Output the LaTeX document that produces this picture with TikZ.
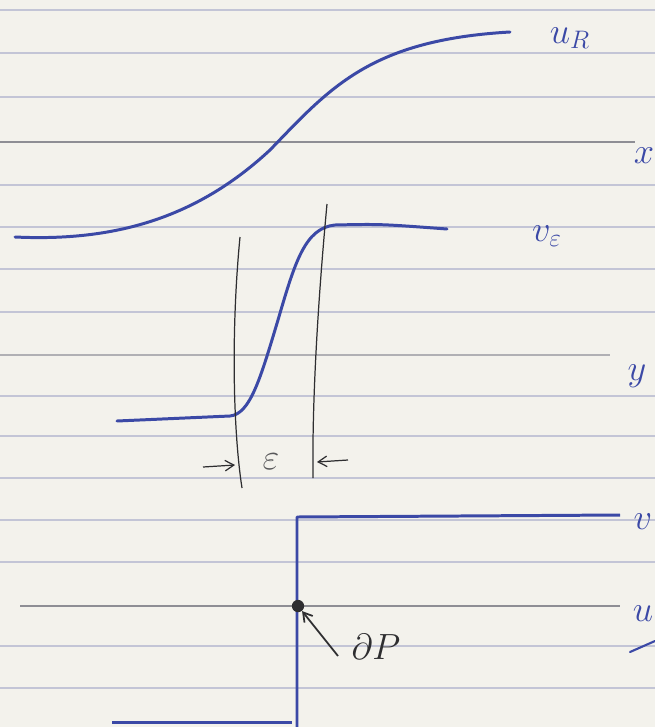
\documentclass[tikz,border=0pt]{standalone}
\usepackage{amsmath,amsfonts}
\usetikzlibrary{positioning, arrows.meta, calc}

\definecolor{paper}{HTML}{F3F2EC}
\definecolor{ruling}{HTML}{C3C5D6}
\definecolor{axisgray}{HTML}{8E8E94}
\definecolor{ink}{HTML}{3B49A6}
\definecolor{pencil}{HTML}{2E2E30}

\begin{document}
\begin{tikzpicture}[
    x=0.02cm, y=-0.02cm,
    rule_line/.style = {draw=ruling, line width=0.7pt},
    axis_line/.style = {draw=axisgray, line width=1.1pt},
    ink_curve/.style = {draw=ink, line width=1.7pt, line cap=round, line join=round},
    pencil_line/.style = {draw=pencil, line width=0.7pt},
    pencil_arrow/.style = {pencil_line, -{Straight Barb[length=5pt, width=6pt]}},
    ink_label/.style = {text=ink, font=\fontsize{22}{26}\selectfont, inner sep=0pt},
    pencil_label/.style = {text=pencil, font=\fontsize{20}{24}\selectfont, inner sep=0pt}
]

% --- Paper and ruling ---
\useasboundingbox (0,0) rectangle (655,727);
\fill[paper] (0,0) rectangle (655,727);
\foreach \ry in {10,53,97,185,227,269,312,396,436,478,520,562,646,688}
    \draw[rule_line] (0,\ry) -- (655,\ry);

% --- Axes (darker ruling) ---
\draw[axis_line] (0,142) -- (635,142);
\draw[axis_line, draw=axisgray!70] (0,355) -- (610,355);
\draw[axis_line] (20,606) -- (620,606);
\node[ink_label] (x_label) at (644,156) {$x$};
\node[ink_label] (y_label) at (637,376) {$y$};
\node[ink_label] (v_label) at (643,522) {$v$};
\node[ink_label] (u_label) at (643,614) {$u$};
\draw[ink_curve, line width=1.2pt] (630,652) -- (655,641);

% --- Wide profile u_R ---
\draw[ink_curve] (15,237) .. controls (120,242) and (200,215) .. (270,150)
    .. controls (330,88) and (370,40) .. (510,32);
\node[ink_label] (uR_label) at (570,38) {$u_R$};

% --- Steep profile v_eps ---
\draw[ink_curve] (117,421) -- (230,416) .. controls (250,414) and (260,380) .. (278,320)
    .. controls (295,262) and (305,228) .. (335,225) .. controls (380,224) .. (447,229);
\node[ink_label] (ve_label) at (547,236) {$v_\varepsilon$};

% --- Transition layer of width eps ---
\coordinate (left_top) at (240,237);
\coordinate (left_bot) at (242,488);
\coordinate (right_top) at (327,204);
\coordinate (right_bot) at (313,478);
\draw[pencil_line] (left_top) .. controls (231,330) and (233,430) .. (left_bot);
\draw[pencil_line] (right_top) .. controls (318,300) and (312,400) .. (right_bot);
\coordinate (left_tail) at (203,467);
\coordinate (left_tip) at (235,465);
\coordinate (right_tail) at (348,460);
\coordinate (right_tip) at (317,462);
\draw[pencil_arrow] (left_tail) -- (left_tip);
\draw[pencil_arrow] (right_tail) -- (right_tip);
\node[pencil_label, text=pencil!80] (eps_label) at (271,462) {$\varepsilon$};

% --- Sharp interface: step function ---
\coordinate (step_top) at (297,517);
\coordinate (step_end) at (620,515);
\coordinate (step_bot) at (297,727);
\draw[ink_curve, line cap=butt] (step_end) -- (step_top) -- (step_bot);
\draw[ink_curve, line cap=butt] (112,722) -- (292,722);

% --- Boundary point dP ---
\node[circle, fill=pencil, inner sep=0pt, minimum size=7pt] (bdry_pt) at (298,606) {};
\coordinate (bdry_tail) at (338,656);
\draw[pencil_arrow, line width=1pt] (bdry_tail) -- (bdry_pt);
\node[pencil_label] (dP_label) at (376,647) {$\partial P$};

\end{tikzpicture}
\end{document}
